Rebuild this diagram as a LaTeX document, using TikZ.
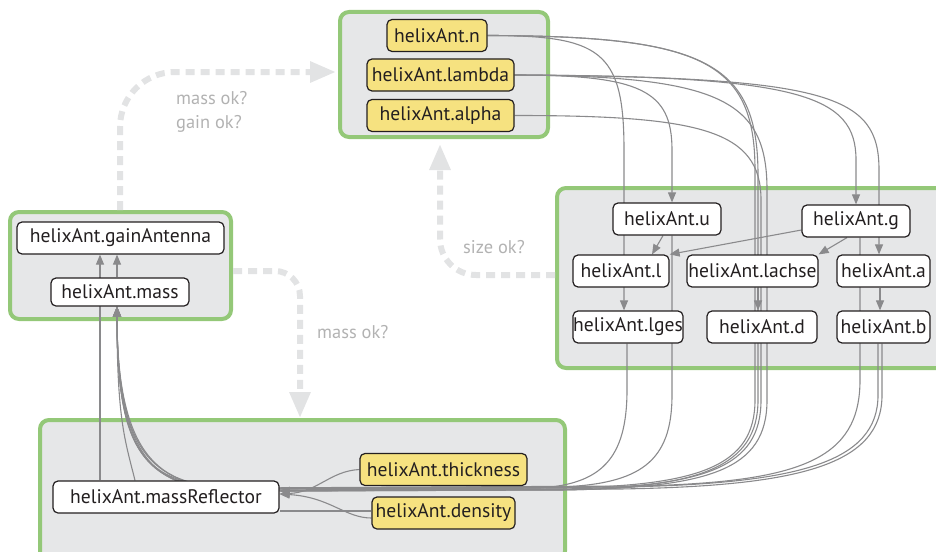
\documentclass[tikz,border=0pt]{standalone}
\usepackage{fontspec}
\setmainfont{PT Sans}
\usetikzlibrary{arrows.meta}
\definecolor{grpfill}{RGB}{230,231,232}
\definecolor{grpline}{RGB}{148,200,120}
\definecolor{param}{RGB}{246,226,128}
\definecolor{wire}{RGB}{138,138,140}
\definecolor{flow}{RGB}{226,227,228}
\definecolor{flowtext}{RGB}{178,178,178}
\definecolor{ink}{RGB}{35,31,32}
\pgfdeclarelayer{groups}
\pgfdeclarelayer{wires}
\pgfsetlayers{groups,wires,main}
\begin{document}
\begin{tikzpicture}[x=1pt,y=-1pt,
  grp/.style={draw=grpline, fill=grpfill, line width=4pt, rounded corners=9pt, inner sep=0pt},
  var/.style={draw=ink, fill=white, line width=1.2pt, rounded corners=5pt, minimum height=32pt,
              inner sep=0pt, font=\fontsize{19.6}{22}\selectfont, text=ink},
  par/.style={var, fill=param},
  wire/.style={draw=wire, line width=1.1pt},
  dep/.style={wire, -{Triangle[length=10pt,width=8pt]}},
  flowarrow/.style={draw=flow, line width=6pt, dash pattern=on 9pt off 6pt,
                    -{Triangle[length=26pt,width=20pt]}},
  note/.style={text=flowtext, font=\fontsize{18.4}{24}\selectfont, align=left, inner sep=0pt}
]
\useasboundingbox (0,0) rectangle (936,551);
\clip (0,0) rectangle (936,551);

% grouping panels
\begin{pgfonlayer}{groups}
  \node[grp, minimum width=208pt, minimum height=125pt] (gtop)    at (444,74.5)  {};
  \node[grp, minimum width=221pt, minimum height=107pt] (gleft)   at (120.5,265.5) {};
  \node[grp, minimum width=393pt, minimum height=180pt] (gright)  at (753.5,278) {};
  \node[grp, minimum width=525pt, minimum height=140pt] (gbottom) at (302.5,490) {};
\end{pgfonlayer}

% variables
\node[par, minimum width=100pt] (n)      at (437,35.5)  {helixAnt.n};
\node[par, minimum width=147pt] (lambda) at (440.5,75)  {helixAnt.lambda};
\node[par, minimum width=147pt] (alpha)  at (440.5,115.5) {helixAnt.alpha};
\node[var, minimum width=207pt] (gain)   at (120.5,238) {helixAnt.gainAntenna};
\node[var, minimum width=138pt, minimum height=28pt] (mass) at (120,292) {helixAnt.mass};
\node[var, minimum width=108pt] (u)      at (667,219)   {helixAnt.u};
\node[var, minimum width=108pt] (g)      at (856,221)   {helixAnt.g};
\node[var, minimum width=96pt]  (l)      at (621,271)   {helixAnt.l};
\node[var, minimum width=131pt] (lachse) at (752.5,271) {helixAnt.lachse};
\node[var, minimum width=93pt]  (a)      at (883.5,271) {helixAnt.a};
\node[var, minimum width=110pt] (lges)   at (628,327)   {helixAnt.lges};
\node[var, minimum width=110pt] (d)      at (762,327)   {helixAnt.d};
\node[var, minimum width=93pt]  (b)      at (883.5,327) {helixAnt.b};
\node[var, minimum width=226pt] (mr)     at (166,497)   {helixAnt.massReflector};
\node[par, minimum width=167pt] (thick)  at (443.5,469.5) {helixAnt.thickness};
\node[par, minimum width=143pt] (dens)   at (443.5,513) {helixAnt.density};

% dependencies
\begin{pgfonlayer}{wires}
  \draw[dep] (n.east) .. controls (600,35.5) and (624,50) .. (624,150) -- (624,0 |- lges.north);
  \draw[dep] (lambda.east) .. controls (640,75) and (672,90) .. (672,150) -- (672,0 |- u.north);
  \draw[dep] (lambda.east) .. controls (800,76) and (856,95) .. (856,160) -- (g.north);
  \draw[dep] (lambda.east) .. controls (830,77) and (879,95) .. (879,170) -- (879,0 |- a.north);

  \draw[dep] (n.east) .. controls (700,36) and (755,60) .. (755,170) -- (755,400)
     .. controls (755,466) and (700,486) .. (560,488) -- (240,489)
     .. controls (150,488) and (117,462) .. (117,0 |- mass.south);
  \draw[dep] (n.east) .. controls (705,36) and (758,62) .. (758,175) -- (758,400)
     .. controls (758,467) and (700,488) .. (560,490) -- ([yshift=6pt]mr.east);
  \draw[dep] (alpha.east) .. controls (700,115.5) and (761,130) .. (761,200) -- (761,400)
     .. controls (761,468) and (705,487) .. (560,489) -- (240,490)
     .. controls (145,489) and (117,455) .. (117,0 |- mass.south);
  \draw[dep] (lambda.east) .. controls (720,76) and (767,100) .. (767,190) -- (767,400)
     .. controls (767,470) and (710,488) .. (560,490) -- (240,491)
     .. controls (160,490) and (117,468) .. (117,0 |- mass.south);
  \draw[dep] (758,0 |- lachse.south) -- (758,0 |- d.north);

  \draw[dep] (672,0 |- u.south) -- (672,395) .. controls (672,462) and (640,484) .. (560,487)
     -- (240,488) .. controls (140,487) and (117,450) .. (117,0 |- mass.south);
  \draw[dep] (627,0 |- lges.south) -- (627,390) .. controls (627,460) and (600,484) .. (540,488)
     -- ([yshift=6pt]mr.east);
  \draw[dep] (860,0 |- g.south) -- (860,380) .. controls (860,460) and (800,482) .. (640,486)
     -- (240,488) .. controls (155,487) and (117,458) .. (117,0 |- mass.south);
  \draw[dep] (878,0 |- b.south) -- (878,395) .. controls (878,462) and (800,484) .. (620,487)
     -- (240,489) .. controls (165,488) and (117,465) .. (117,0 |- mass.south);
  \draw[dep] (882,0 |- b.south) -- (882,395) .. controls (882,465) and (800,486) .. (620,489)
     -- ([yshift=6pt]mr.east);

  \draw[dep] (880,0 |- a.south) -- (880,0 |- b.north);
  \draw[dep] (663,0 |- u.south) -- (652,0 |- l.north);
  \draw[dep] ([yshift=-9pt]g.west) -- (l.north east);
  \draw[dep] (847,0 |- g.south) -- (lachse.north east);

  \draw[dep] (117,0 |- mass.north) -- (117,0 |- gain.south);
  \draw[dep] (100,0 |- mr.north) -- (100,0 |- gain.south);
  \draw[dep] (135,0 |- mr.north) .. controls (125,440) and (117,420) .. (117,0 |- mass.south);

  \draw[dep] (thick.west) .. controls (330,471) and (318,492) .. ([yshift=3pt]mr.east);
  \draw[dep] ([yshift=-5pt]dens.west) .. controls (345,518) and (330,497) .. ([yshift=3pt]mr.east);
  \draw[wire] ([yshift=2pt]dens.west) -- ([yshift=-14pt]mr.east);
\end{pgfonlayer}

% checks between the groups
\draw[flowarrow, rounded corners=55pt] (120,210) -- (120,72) -- (336,72);
\draw[flowarrow, rounded corners=25pt] (gleft.east |- 0,271) -- (300,271) -- (300,0 |- gbottom.north);
\draw[flowarrow, rounded corners=36pt] (gright.west |- 0,275) -- (440,275) -- (440,144);

\node[note, anchor=north west] (q1) at (176,91) {mass ok?\\gain ok?};
\node[note, anchor=west] (q2) at (317,332) {mass ok?};
\node[note, anchor=west] (q3) at (463,247) {size ok?};
\end{tikzpicture}
\end{document}
